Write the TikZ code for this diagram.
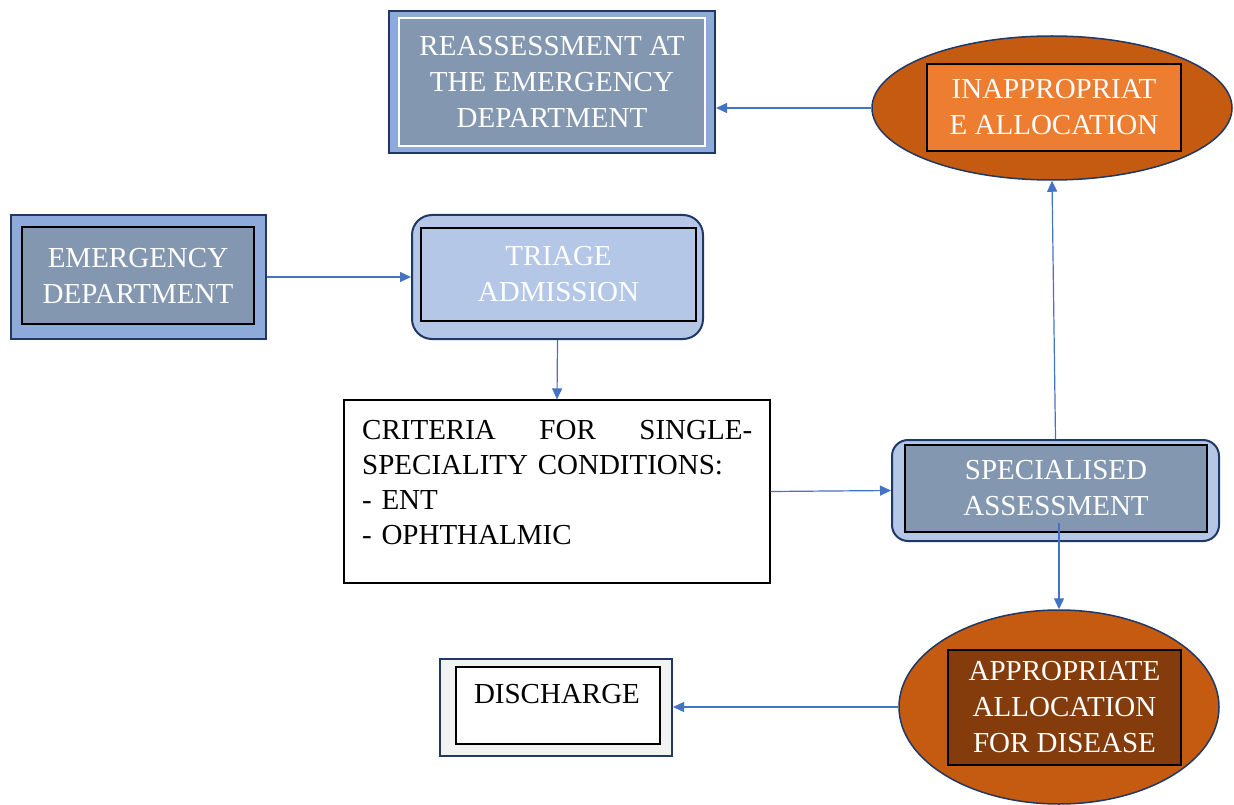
\documentclass[tikz,border=0pt]{standalone}
\usepackage{fontspec}
\setmainfont{Liberation Serif}
\usetikzlibrary{shapes.geometric,arrows.meta}
\definecolor{navy}{HTML}{203864}
\definecolor{ltblue}{HTML}{8EAADB}
\definecolor{gblue}{HTML}{8497B0}
\definecolor{pblue}{HTML}{B4C7E7}
\definecolor{rust}{HTML}{C55A11}
\definecolor{orng}{HTML}{ED7D31}
\definecolor{brwn}{HTML}{843C0C}
\definecolor{arrblue}{HTML}{4472C4}
\definecolor{lgrey}{HTML}{F2F2F2}
\tikzset{
  txt/.style={font=\fontsize{29}{36}\selectfont, align=center, text=white},
  outerbox/.style={draw=navy, line width=2pt, rectangle, inner sep=0pt},
  innerbox/.style={draw=black, line width=1.5pt, rectangle, inner sep=0pt},
  oval/.style={ellipse, draw=navy, line width=1.5pt, fill=rust, inner sep=0pt},
  conn/.style={draw=arrblue, line width=1.2pt, -{Triangle[length=11pt,width=10pt]}}
}
\begin{document}
\begin{tikzpicture}[x=1pt,y=-1pt]
\useasboundingbox (0,0) rectangle (1234,805);
% Reassessment
\node[outerbox, fill=ltblue, minimum width=326, minimum height=142] (reout) at (552,82) {};
\node[innerbox, draw=white, fill=gblue, minimum width=306, minimum height=128, txt] (rein) at (552,82) {REASSESSMENT AT\\THE EMERGENCY\\DEPARTMENT};
% Inappropriate
\node[oval, minimum width=360, minimum height=144] (inapp) at (1052,108) {};
\node[innerbox, fill=orng, minimum width=254, minimum height=87, txt] (inappin) at (1054,107.5) {INAPPROPRIAT\\E ALLOCATION};
% Emergency
\node[outerbox, fill=ltblue, minimum width=255, minimum height=124] (emout) at (138.5,277) {};
\node[innerbox, fill=gblue, minimum width=232, minimum height=97, txt] (emin) at (138,275.5) {EMERGENCY\\DEPARTMENT};
% Triage
\node[outerbox, rounded corners=20pt, fill=pblue, minimum width=291, minimum height=124] (trout) at (557.5,277) {};
\node[innerbox, fill=pblue, minimum width=275, minimum height=93, txt] (trin) at (558.5,274.5) {TRIAGE\\ADMISSION};
% Criteria
\node[draw=black, line width=1.2pt, fill=white, minimum width=426, minimum height=183, inner sep=0pt] (crit) at (557,491.5) {};
\node[anchor=north west, inner sep=0pt, text width=390pt, align=left, font=\fontsize{29}{35}\selectfont] (crittxt) at (362,420) {\makebox[390pt][s]{CRITERIA\hfill FOR\hfill SINGLE-}\\SPECIALITY CONDITIONS:\\- ENT\\- OPHTHALMIC};
% Specialised
\node[outerbox, rounded corners=16pt, fill=pblue, minimum width=327, minimum height=101] (spout) at (1055.5,490.5) {};
\node[innerbox, fill=gblue, minimum width=302, minimum height=87, txt] (spin) at (1056,488.5) {SPECIALISED\\ASSESSMENT};
% Appropriate
\node[oval, minimum width=320, minimum height=194] (approp) at (1059,707) {};
\node[innerbox, fill=brwn, minimum width=233, minimum height=115, txt] (appin) at (1064.5,707.5) {APPROPRIATE\\ALLOCATION\\FOR DISEASE};
% Discharge
\node[outerbox, fill=lgrey, minimum width=232, minimum height=97] (dsout) at (556,707.5) {};
\node[innerbox, fill=white, minimum width=204, minimum height=77] (dsin) at (558,705.5) {};
\node[anchor=north, inner sep=0pt, font=\fontsize{29}{36}\selectfont] (dstxt) at (557,684) {DISCHARGE};
% connectors
\coordinate (spbot) at (1059,523);
\draw[conn] (emout.east) -- (trout.west);
\draw[conn] (trout.south) -- (crit.north);
\draw[conn] (crit.east) -- (spout.west);
\draw[conn] (inapp.west) -- (reout.east |- inapp.west);
\draw[conn] (spout.north) -- (inapp.south);
\draw[conn] (spbot) -- (approp.north);
\draw[conn] (approp.west) -- (dsout.east |- approp.west);
\end{tikzpicture}
\end{document}
